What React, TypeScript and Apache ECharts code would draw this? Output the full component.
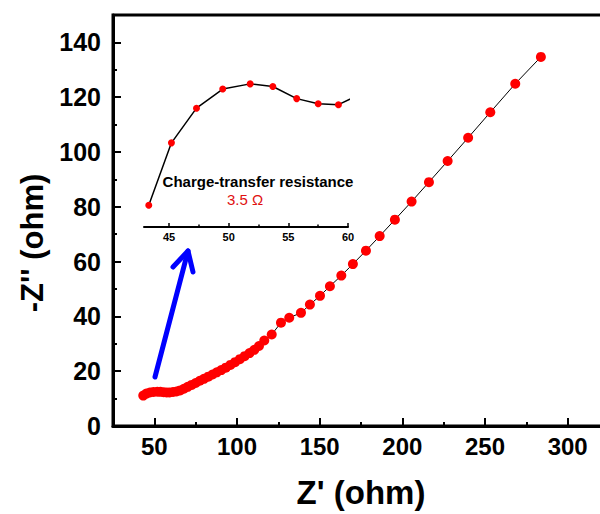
import React, { useEffect, useRef } from "react";
import * as echarts from "echarts";

// Nyquist data: Z' (ohm), -Z'' (ohm)
const zReal = [
  43.3, 45.2, 47.3, 49.5, 51.8, 53.7, 55.7, 57.5, 59.2, 61.3, 63.4, 65.6, 67.9,
  70.2, 72.6, 75.0, 77.5, 80.0, 82.6, 85.2, 87.8, 90.5, 93.2, 96.0, 98.8, 101.7,
  104.6, 107.6, 110.5, 113.3, 116.5, 121.0, 126.6, 131.6, 138.7, 144.1, 150.2,
  156.2, 163.1, 170.1, 178.0, 186.3, 195.5, 205.6, 216.1, 227.4, 239.8, 253.2,
  268.3, 283.8,
];
const zImag = [
  11.1, 11.82, 12.22, 12.44, 12.5, 12.47, 12.33, 12.27, 12.26, 12.4, 12.6, 13.0,
  13.6, 14.3, 15.0, 15.7, 16.5, 17.2, 18.0, 18.8, 19.6, 20.4, 21.3, 22.3, 23.3,
  24.4, 25.5, 26.6, 27.8, 29.2, 31.2, 33.4, 37.7, 39.5, 41.3, 44.3, 47.5, 51.0,
  54.9, 59.1, 64.0, 69.3, 75.3, 81.9, 89.0, 96.7, 105.2, 114.5, 124.9, 134.7,
];

const xMajorTicks = [50, 100, 150, 200, 250, 300];
const xMinorTicks = [75, 125, 175, 225, 275];
const yMajorTicks = [0, 20, 40, 60, 80, 100, 120, 140];
const yMinorTicks = [10, 30, 50, 70, 90, 110, 130];
const insetMajorTicks = [45, 50, 55, 60];
const insetMinorTicks = [47.5, 52.5, 57.5];

const FONT = "Liberation Sans, Arial, sans-serif";

export default function App() {
  const ref = useRef<HTMLDivElement>(null);
  useEffect(() => {
    if (!ref.current) return;
    const chart = echarts.init(ref.current, undefined, { renderer: "svg" });
    const points = zReal.map((x, i) => [x, zImag[i]]);
    const insetPoints = points.filter((p) => p[0] <= 64);
    const tickBase = { inside: true, lineStyle: { color: "#000", width: 2 } };
    chart.setOption({
      animation: false,
      backgroundColor: "#fff",
      grid: [
        {
          left: 113,
          top: 15,
          width: 496,
          height: 413,
          show: true,
          borderColor: "#000",
          borderWidth: 3,
          backgroundColor: "transparent",
        },
        { left: 144, top: 70, width: 204, height: 157, show: false },
      ],
      xAxis: [
        {
          type: "value",
          gridIndex: 0,
          min: 25,
          max: 325,
          position: "bottom",
          name: "Z' (ohm)",
          nameLocation: "middle",
          nameGap: 50,
          nameTextStyle: { fontFamily: FONT, fontWeight: "bold", fontSize: 33, color: "#000" },
          axisLine: { show: true, lineStyle: { color: "#000", width: 3 } },
          axisTick: { ...tickBase, length: 8, customValues: xMajorTicks },
          axisLabel: {
            customValues: xMajorTicks,
            fontFamily: FONT,
            fontWeight: "bold",
            fontSize: 24,
            color: "#000",
            margin: 8,
          },
          splitLine: { show: false },
        },
        {
          type: "value",
          gridIndex: 0,
          min: 25,
          max: 325,
          position: "bottom",
          axisLine: { show: false },
          axisTick: { ...tickBase, length: 4, customValues: xMinorTicks },
          axisLabel: { show: false },
          splitLine: { show: false },
        },
        {
          type: "value",
          gridIndex: 1,
          min: 42.9,
          max: 60,
          position: "bottom",
          axisLine: { show: true, lineStyle: { color: "#000", width: 2 } },
          axisTick: { inside: true, length: 4, lineStyle: { color: "#000", width: 1.5 }, customValues: insetMajorTicks },
          axisLabel: {
            customValues: insetMajorTicks,
            fontFamily: FONT,
            fontWeight: "bold",
            fontSize: 11,
            color: "#000",
            margin: 4,
          },
          splitLine: { show: false },
        },
        {
          type: "value",
          gridIndex: 1,
          min: 42.9,
          max: 60,
          position: "bottom",
          axisLine: { show: false },
          axisTick: { inside: true, length: 2.5, lineStyle: { color: "#000", width: 1.5 }, customValues: insetMinorTicks },
          axisLabel: { show: false },
          splitLine: { show: false },
        },
      ],
      yAxis: [
        {
          type: "value",
          gridIndex: 0,
          min: 0,
          max: 150,
          position: "left",
          axisLine: { show: true, lineStyle: { color: "#000", width: 3 } },
          axisTick: { ...tickBase, length: 8, customValues: yMajorTicks },
          axisLabel: {
            customValues: yMajorTicks,
            fontFamily: FONT,
            fontWeight: "bold",
            fontSize: 25,
            color: "#000",
            margin: 12,
          },
          splitLine: { show: false },
        },
        {
          type: "value",
          gridIndex: 0,
          min: 0,
          max: 150,
          position: "left",
          axisLine: { show: false },
          axisTick: { ...tickBase, length: 4, customValues: yMinorTicks },
          axisLabel: { show: false },
          splitLine: { show: false },
        },
        {
          type: "value",
          gridIndex: 1,
          min: 10.85,
          max: 12.66,
          show: false,
          splitLine: { show: false },
        },
      ],
      series: [
        {
          type: "line",
          xAxisIndex: 0,
          yAxisIndex: 0,
          data: points,
          symbol: "circle",
          symbolSize: 10,
          itemStyle: { color: "#ff0000" },
          lineStyle: { color: "#000", width: 1 },
          z: 3,
        },
        {
          type: "line",
          xAxisIndex: 2,
          yAxisIndex: 2,
          data: insetPoints,
          clip: true,
          symbol: "circle",
          symbolSize: 7,
          itemStyle: { color: "#ff0000" },
          lineStyle: { color: "#000", width: 1.5 },
          z: 3,
        },
      ],
      graphic: [
        {
          type: "text",
          x: 32,
          y: 243,
          rotation: Math.PI / 2,
          style: {
            text: "-Z'' (ohm)",
            fontFamily: FONT,
            fontWeight: "bold",
            fontSize: 31,
            fill: "#000",
            align: "center",
            verticalAlign: "middle",
          },
        },
        {
          type: "text",
          x: 258,
          y: 181,
          style: {
            text: "Charge-transfer resistance",
            fontFamily: FONT,
            fontWeight: "bold",
            fontSize: 15,
            fill: "#000",
            align: "center",
            verticalAlign: "middle",
          },
        },
        {
          type: "text",
          x: 245,
          y: 199,
          style: {
            text: "3.5 Ω",
            fontFamily: FONT,
            fontSize: 15,
            fill: "#e01010",
            align: "center",
            verticalAlign: "middle",
          },
        },
        {
          type: "polyline",
          shape: { points: [[155, 377], [188, 251]] },
          style: { stroke: "#0000ff", lineWidth: 5, lineCap: "round", fill: null },
          z: 10,
        },
        {
          type: "polyline",
          shape: { points: [[173, 267], [188, 251], [193, 272]] },
          style: { stroke: "#0000ff", lineWidth: 5, lineCap: "round", lineJoin: "round", fill: null },
          z: 10,
        },
      ],
    });
    return () => chart.dispose();
  }, []);
  return (
    <div
      style={{
        position: "fixed",
        left: 0,
        top: 0,
        width: 600,
        height: 514,
        overflow: "hidden",
        background: "#fff",
      }}
    >
      <div ref={ref} style={{ width: 640, height: 514 }} />
    </div>
  );
}
